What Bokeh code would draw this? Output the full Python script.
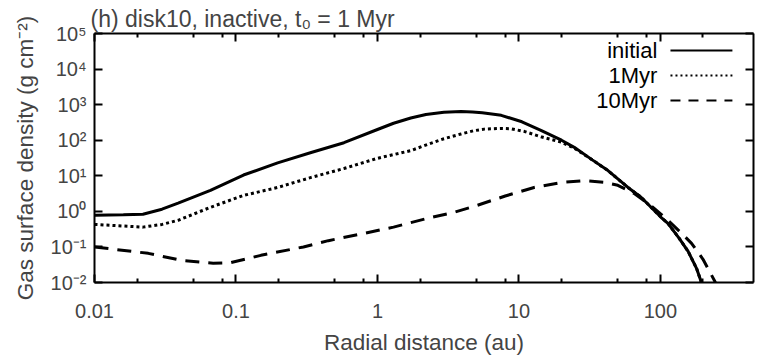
import math
from bokeh.plotting import figure
from bokeh.models import LogAxis, FixedTicker, CustomJSTickFormatter, Label, Range1d, CustomLabelingPolicy
from bokeh.embed import file_html
from bokeh.resources import INLINE

# ---------------- data ----------------
r_initial = [0.01, 0.016, 0.022, 0.03, 0.039, 0.066, 0.113, 0.197, 0.34, 0.58, 1.0, 1.3, 1.72, 2.2,
             2.95, 3.9, 4.7, 5.5, 7.5, 10.5, 14.3, 20, 24.6, 33, 42.6, 59, 73, 101, 113, 135,
             157, 180, 195]
sigma_initial = [0.78, 0.8, 0.83, 1.15, 1.7, 3.9, 10.5, 23, 45, 85, 200, 300, 420, 530,
                 610, 640, 625, 590, 500, 330, 190, 100, 63, 28, 14, 4.7, 2.5, 0.68, 0.46, 0.18,
                 0.075, 0.025, 0.01]

r_1myr = [0.01, 0.022, 0.03, 0.039, 0.066, 0.113, 0.197, 0.34, 0.58, 1.0, 1.72, 2.3, 2.95, 3.9,
          4.8, 5.7, 7.5, 8.8, 11, 14.3, 20, 24.6, 33, 42.6, 59, 73, 101, 113, 135, 157, 180, 195]
sigma_1myr = [0.43, 0.36, 0.43, 0.56, 1.3, 2.8, 4.7, 9, 16, 31, 51, 78, 110, 150,
              185, 205, 215, 210, 175, 125, 88, 60, 28, 14, 4.7, 2.5, 0.68, 0.46, 0.18, 0.075,
              0.025, 0.01]

r_10myr = [0.01, 0.024, 0.041, 0.069, 0.091, 0.15, 0.3, 0.45, 0.8, 1.3, 2.2, 3.5, 5, 8,
           12.8, 20, 29, 40, 50, 65, 85, 113, 140, 166, 200, 245]
sigma_10myr = [0.1, 0.066, 0.042, 0.035, 0.036, 0.058, 0.1, 0.15, 0.24, 0.36, 0.62, 0.95, 1.45, 2.7,
               4.7, 6.5, 7.3, 6.6, 5.4, 3.2, 1.5, 0.56, 0.25, 0.126, 0.045, 0.01]

series_labels = ["initial", "1Myr", "10Myr"]

x_tick_values = [0.01, 0.1, 1, 10, 100]
x_tick_labels = ["0.01", "0.1", "1", "10", "100"]
x_minor_ticks = [m * d for d in [0.01, 0.1, 1, 10, 100] for m in (2, 5, 8)]
y_tick_values = [1e-2, 1e-1, 1e0, 1e1, 1e2, 1e3, 1e4, 1e5]
y_tick_labels = ["10\u207b\u00b2", "10\u207b\u00b9", "10\u2070", "10\u00b9",
                 "10\u00b2", "10\u00b3", "10\u2074", "10\u2075"]

title_text = "(h) disk10, inactive, t\u2080 = 1 Myr"
x_label = "Radial distance (au)"
y_label = "Gas surface density (g cm\u207b\u00b2)"

X_MIN, X_MAX = 0.01, 455
Y_MIN, Y_MAX = 1e-2, 1e5

FONT = "Liberation Sans"

# ---------------- figure ----------------
p = figure(width=760, height=357, x_axis_type="log", y_axis_type="log",
           x_range=Range1d(X_MIN, X_MAX), y_range=Range1d(Y_MIN, Y_MAX),
           output_backend="svg", toolbar_location=None,
           min_border_left=94, min_border_right=7, min_border_top=33, min_border_bottom=75)
p.xgrid.visible = False
p.ygrid.visible = False
p.outline_line_color = None
p.background_fill_color = "white"
p.border_fill_color = "white"

p.title.text = title_text
p.title.text_font = FONT
p.title.text_font_size = "23px"
p.title.text_font_style = "normal"
p.title.align = "left"
p.title.offset = -4
p.title.standoff = 4

fmt_code = """
const e = Math.round(Math.log10(tick));
for (let i = 0; i < vals.length; i++) {
  if (Math.round(Math.log10(vals[i])) == e) return labels[i];
}
return "";
"""
xfmt = CustomJSTickFormatter(args=dict(vals=x_tick_values, labels=x_tick_labels), code=fmt_code)
yfmt = CustomJSTickFormatter(args=dict(vals=y_tick_values, labels=y_tick_labels), code=fmt_code)

xticker = FixedTicker(ticks=x_tick_values, minor_ticks=x_minor_ticks)
yticker = FixedTicker(ticks=y_tick_values, minor_ticks=[])


def style_axis(ax, show_labels):
    ax.axis_line_width = 2
    ax.axis_line_color = "black"
    ax.major_tick_line_width = 2
    ax.minor_tick_line_width = 2
    ax.major_tick_in = 8
    ax.major_tick_out = 0
    ax.minor_tick_in = 4
    ax.minor_tick_out = 0
    ax.major_label_text_font = FONT
    ax.axis_label_text_font = FONT
    ax.axis_label_text_font_style = "normal"
    if not show_labels:
        ax.major_label_policy = CustomLabelingPolicy(code="return []")
        ax.major_label_text_font_size = "0px"
        ax.major_label_standoff = 0


xa = p.xaxis[0]
xa.ticker = xticker
xa.formatter = xfmt
style_axis(xa, True)
xa.major_label_text_font_size = "20px"
xa.major_label_standoff = 21
xa.axis_label = x_label
xa.axis_label_text_font_size = "22.5px"
xa.axis_label_standoff = 9

ya = p.yaxis[0]
ya.ticker = yticker
ya.formatter = yfmt
style_axis(ya, True)
ya.major_label_text_font_size = "20px"
ya.major_label_standoff = 8
ya.axis_label = y_label
ya.axis_label_text_font_size = "22.5px"
ya.axis_label_standoff = 10

top = LogAxis(ticker=xticker, formatter=xfmt)
style_axis(top, False)
p.add_layout(top, "above")
right = LogAxis(ticker=yticker, formatter=yfmt)
style_axis(right, False)
p.add_layout(right, "right")

# ---------------- curves ----------------
p.line(r_initial, sigma_initial, line_color="black", line_width=3)
p.line(r_1myr, sigma_1myr, line_color="black", line_width=3, line_dash="3 3")
p.line(r_10myr, sigma_10myr, line_color="black", line_width=3, line_dash="14 9")

# ---------------- legend (label left of sample, like the reference) ----------------
lx0, lx1 = math.log10(X_MIN), math.log10(X_MAX)
ly0, ly1 = math.log10(Y_MIN), math.log10(Y_MAX)


def fx(f):
    return 10 ** (lx0 + f * (lx1 - lx0))


def fy(f):
    return 10 ** (ly0 + f * (ly1 - ly0))


rows = [0.932, 0.831, 0.731]
dashes = ["solid", "2 3", "10 8"]
for lab, rf, dash in zip(series_labels, rows, dashes):
    p.add_layout(Label(x=fx(0.854), y=fy(rf), text=lab, text_align="right",
                       text_baseline="middle", text_font=FONT, text_font_size="22px",
                       text_color="black"))
    p.line([fx(0.874), fx(0.968)], [fy(rf), fy(rf)], line_color="black",
           line_width=2, line_dash=dash)

open("out.html", "w").write(file_html(p, INLINE))
